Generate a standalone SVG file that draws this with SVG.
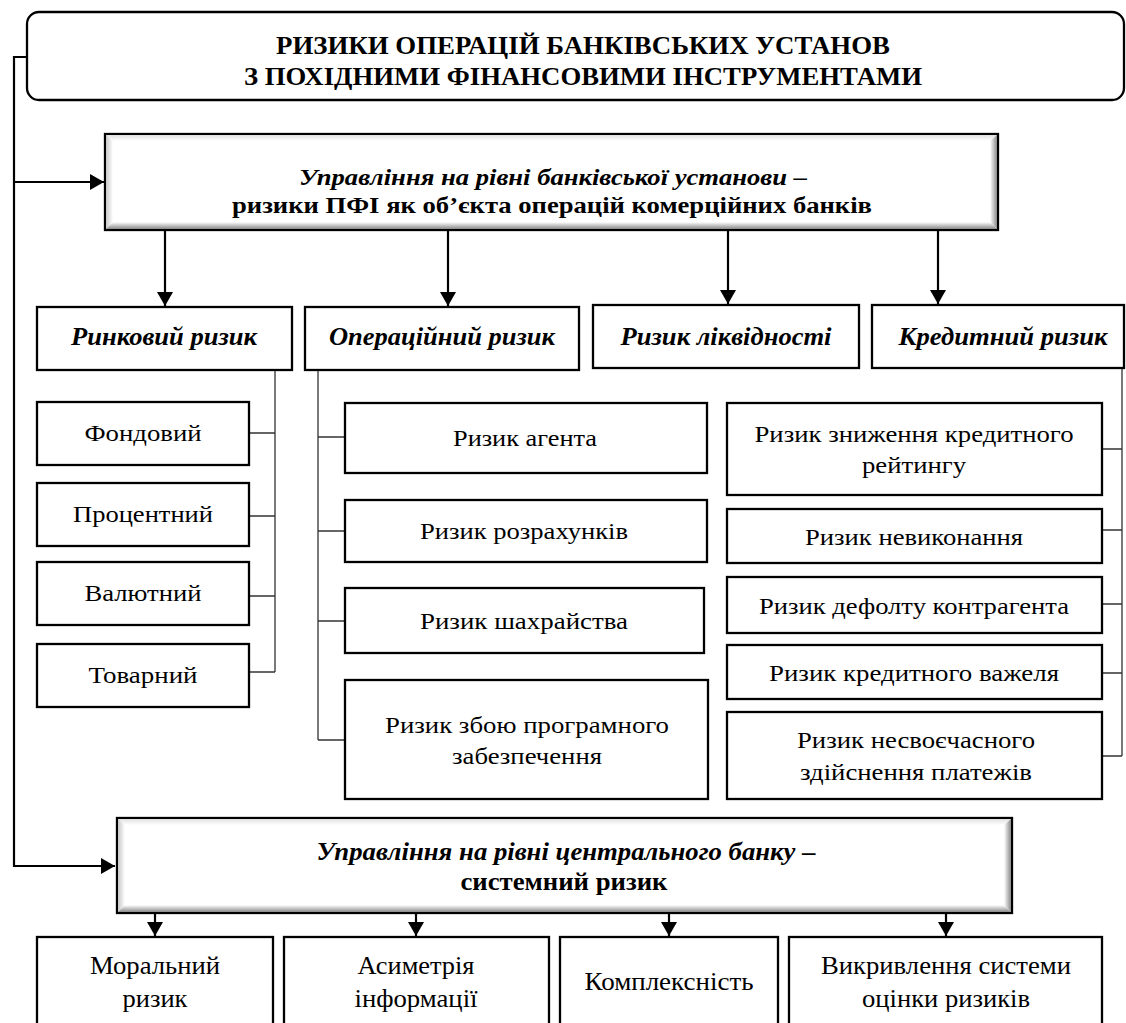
<svg xmlns="http://www.w3.org/2000/svg" width="1126" height="1023" viewBox="0 0 1126 1023" font-family="Liberation Serif, DejaVu Serif, serif">
<defs>
<style>
.box{fill:#fff;stroke:#000;stroke-width:2.3}
text{fill:#000;text-anchor:middle;font-family:'Liberation Serif','DejaVu Serif',serif}
.reg{font-size:24px}
.big{font-size:26px}
.bi{font-size:25px;font-weight:bold;font-style:italic}
.b{font-size:25px;font-weight:bold}
.sm{font-size:23px}
.main{fill:none;stroke:#000;stroke-width:2.2}
.thin{fill:none;stroke:#333;stroke-width:1.3}
</style>
<marker id="ah" viewBox="0 0 14 16" refX="14" refY="8" markerWidth="14" markerHeight="16" markerUnits="userSpaceOnUse" orient="auto">
<path d="M0,0 L14,8 L0,16 Z" fill="#000"/>
</marker>
<linearGradient id="gB" x1="0" y1="0" x2="0" y2="1"><stop offset="0" stop-color="#fff"/><stop offset="1" stop-color="#8a8a8a"/></linearGradient>
<linearGradient id="gR" x1="0" y1="0" x2="1" y2="0"><stop offset="0" stop-color="#fff"/><stop offset="1" stop-color="#8a8a8a"/></linearGradient>
<linearGradient id="gL" x1="0" y1="0" x2="1" y2="0"><stop offset="0" stop-color="#c8c8c8"/><stop offset="1" stop-color="#fff"/></linearGradient>
<linearGradient id="gT" x1="0" y1="0" x2="0" y2="1"><stop offset="0" stop-color="#e0e0e0"/><stop offset="1" stop-color="#fff"/></linearGradient>
</defs>

<g id="connectors">
<polyline class="main" points="27,57 14,57 14,866 115,866" marker-end="url(#ah)"/>
<line class="main" x1="14" y1="182" x2="104" y2="182" marker-end="url(#ah)"/>
<line class="main" x1="165" y1="231" x2="165" y2="306" marker-end="url(#ah)"/>
<line class="main" x1="448" y1="231" x2="448" y2="306" marker-end="url(#ah)"/>
<line class="main" x1="728" y1="231" x2="728" y2="304" marker-end="url(#ah)"/>
<line class="main" x1="938" y1="231" x2="938" y2="304" marker-end="url(#ah)"/>
<line class="main" x1="155" y1="914" x2="155" y2="936" marker-end="url(#ah)"/>
<line class="main" x1="416" y1="914" x2="416" y2="936" marker-end="url(#ah)"/>
<line class="main" x1="669" y1="914" x2="669" y2="936" marker-end="url(#ah)"/>
<line class="main" x1="946" y1="914" x2="946" y2="936" marker-end="url(#ah)"/>
<path class="thin" d="M275,370 V672 M249,433 H275 M249,516 H275 M249,596 H275 M249,672 H275"/>
<path class="thin" d="M318,370 V740 M318,437 H345 M318,531 H345 M318,621 H345 M318,740 H345"/>
<path class="thin" d="M1122,368 V756 M1102,449 H1122 M1102,530 H1122 M1102,604 H1122 M1102,673 H1122 M1102,756 H1122"/>
</g>

<g id="title">
<rect class="box" x="27" y="12" width="1097" height="88" rx="12"/>
<text class="b" x="583" y="54" textLength="614" lengthAdjust="spacingAndGlyphs">РИЗИКИ ОПЕРАЦІЙ БАНКІВСЬКИХ УСТАНОВ</text>
<text class="b" x="583" y="85" textLength="678" lengthAdjust="spacingAndGlyphs">З ПОХІДНИМИ ФІНАНСОВИМИ ІНСТРУМЕНТАМИ</text>
</g>

<g id="bank-level">
<rect class="box" x="105" y="134" width="893" height="96"/>
<polygon fill="url(#gT)" points="106,135 997,135 990,141 113,141"/>
<polygon fill="url(#gL)" points="106,135 113,141 113,222 106,229"/>
<polygon fill="url(#gR)" points="997,135 997,229 990,222 990,141"/>
<polygon fill="url(#gB)" points="106,229 113,222 990,222 997,229"/>
<text class="bi sm" x="553" y="185" textLength="508" lengthAdjust="spacingAndGlyphs">Управління на рівні банківської установи –</text>
<text class="b sm" x="552" y="213" textLength="640" lengthAdjust="spacingAndGlyphs">ризики ПФІ як об’єкта операцій комерційних банків</text>
</g>

<g id="market">
<rect class="box" x="37" y="307" width="255" height="63"/>
<text class="bi" x="164" y="345" textLength="186" lengthAdjust="spacingAndGlyphs">Ринковий ризик</text>
</g>
<g id="operational">
<rect class="box" x="305" y="307" width="274" height="63"/>
<text class="bi" x="442" y="345" textLength="226" lengthAdjust="spacingAndGlyphs">Операційний ризик</text>
</g>
<g id="liquidity">
<rect class="box" x="593" y="305" width="266" height="63"/>
<text class="bi" x="726" y="345" textLength="211" lengthAdjust="spacingAndGlyphs">Ризик ліквідності</text>
</g>
<g id="credit">
<rect class="box" x="872" y="305" width="252" height="63"/>
<text class="bi" x="1003" y="345" textLength="209" lengthAdjust="spacingAndGlyphs">Кредитний ризик</text>
</g>

<g id="m1"><rect class="box" x="37" y="402" width="212" height="63"/><text class="reg" x="143" y="441" textLength="117" lengthAdjust="spacingAndGlyphs">Фондовий</text></g>
<g id="m2"><rect class="box" x="37" y="483" width="212" height="63"/><text class="reg" x="143" y="522" textLength="140" lengthAdjust="spacingAndGlyphs">Процентний</text></g>
<g id="m3"><rect class="box" x="37" y="562" width="212" height="63"/><text class="reg" x="143" y="601" textLength="117" lengthAdjust="spacingAndGlyphs">Валютний</text></g>
<g id="m4"><rect class="box" x="37" y="644" width="212" height="63"/><text class="reg" x="143" y="683" textLength="109" lengthAdjust="spacingAndGlyphs">Товарний</text></g>

<g id="o1"><rect class="box" x="345" y="403" width="362" height="70"/><text class="reg" x="525" y="446" textLength="144" lengthAdjust="spacingAndGlyphs">Ризик агента</text></g>
<g id="o2"><rect class="box" x="345" y="500" width="362" height="62"/><text class="reg" x="524" y="539" textLength="208" lengthAdjust="spacingAndGlyphs">Ризик розрахунків</text></g>
<g id="o3"><rect class="box" x="345" y="588" width="359" height="65"/><text class="reg" x="524" y="629" textLength="208" lengthAdjust="spacingAndGlyphs">Ризик шахрайства</text></g>
<g id="o4"><rect class="box" x="345" y="680" width="363" height="119"/><text class="reg" x="527" y="733" textLength="284" lengthAdjust="spacingAndGlyphs">Ризик збою програмного</text><text class="reg" x="527" y="764" textLength="150" lengthAdjust="spacingAndGlyphs">забезпечення</text></g>

<g id="c1"><rect class="box" x="727" y="403" width="375" height="92"/><text class="reg" x="914" y="442" textLength="319" lengthAdjust="spacingAndGlyphs">Ризик зниження кредитного</text><text class="reg" x="914" y="473" textLength="104" lengthAdjust="spacingAndGlyphs">рейтингу</text></g>
<g id="c2"><rect class="box" x="727" y="509" width="375" height="54"/><text class="reg" x="914" y="545" textLength="218" lengthAdjust="spacingAndGlyphs">Ризик невиконання</text></g>
<g id="c3"><rect class="box" x="727" y="577" width="375" height="56"/><text class="reg" x="914" y="614" textLength="310" lengthAdjust="spacingAndGlyphs">Ризик дефолту контрагента</text></g>
<g id="c4"><rect class="box" x="727" y="645" width="375" height="54"/><text class="reg" x="914" y="681" textLength="290" lengthAdjust="spacingAndGlyphs">Ризик кредитного важеля</text></g>
<g id="c5"><rect class="box" x="727" y="712" width="375" height="87"/><text class="reg" x="916" y="748" textLength="238" lengthAdjust="spacingAndGlyphs">Ризик несвоєчасного</text><text class="reg" x="916" y="780" textLength="232" lengthAdjust="spacingAndGlyphs">здійснення платежів</text></g>

<g id="central-level">
<rect class="box" x="117" y="818" width="895" height="95"/>
<polygon fill="url(#gT)" points="118,819 1011,819 1004,825 125,825"/>
<polygon fill="url(#gL)" points="118,819 125,825 125,905 118,912"/>
<polygon fill="url(#gR)" points="1011,819 1011,912 1004,905 1004,825"/>
<polygon fill="url(#gB)" points="118,912 125,905 1004,905 1011,912"/>
<text class="bi" x="566" y="860" textLength="499" lengthAdjust="spacingAndGlyphs">Управління на рівні центрального банку –</text>
<text class="b" x="564" y="890" textLength="207" lengthAdjust="spacingAndGlyphs">системний ризик</text>
</g>

<g id="b1"><rect class="box" x="37" y="937" width="236" height="100"/><text class="big" x="155" y="974" textLength="130" lengthAdjust="spacingAndGlyphs">Моральний</text><text class="big" x="155" y="1007" textLength="65" lengthAdjust="spacingAndGlyphs">ризик</text></g>
<g id="b2"><rect class="box" x="284" y="937" width="265" height="100"/><text class="big" x="416" y="974" textLength="117" lengthAdjust="spacingAndGlyphs">Асиметрія</text><text class="big" x="416" y="1007" textLength="123" lengthAdjust="spacingAndGlyphs">інформації</text></g>
<g id="b3"><rect class="box" x="560" y="937" width="218" height="100"/><text class="big" x="669" y="990" textLength="169" lengthAdjust="spacingAndGlyphs">Комплексність</text></g>
<g id="b4"><rect class="box" x="789" y="937" width="313" height="100"/><text class="big" x="946" y="974" textLength="250" lengthAdjust="spacingAndGlyphs">Викривлення системи</text><text class="big" x="946" y="1007" textLength="168" lengthAdjust="spacingAndGlyphs">оцінки ризиків</text></g>
</svg>
